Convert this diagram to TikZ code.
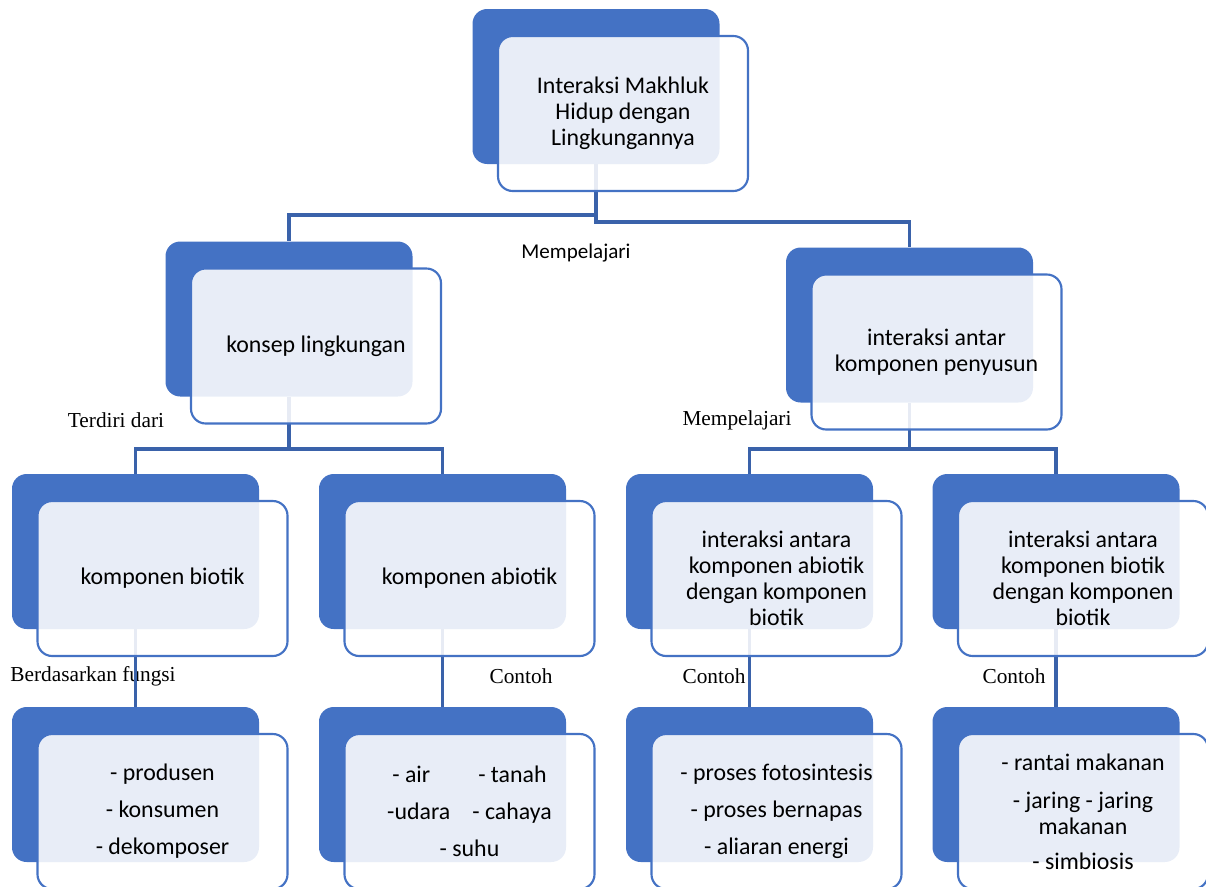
\documentclass[tikz,border=0pt]{standalone}
\usepackage{fontspec}
\setmainfont{Liberation Serif}
\newfontfamily\boxfont{Carlito}
\definecolor{smartblue}{HTML}{4472C4}
\definecolor{linkblue}{HTML}{3A62AA}

\begin{document}
\begin{tikzpicture}[x=0.75pt,y=-0.75pt,
    back/.style={rectangle,rounded corners=11pt,fill=smartblue,inner sep=0pt,
      minimum width=185.25pt,minimum height=116.25pt},
    front/.style={rectangle,rounded corners=11pt,draw=smartblue,line width=1.6pt,
      fill=white,fill opacity=0.88,text opacity=1,inner sep=2pt,align=center,
      minimum width=187.5pt,minimum height=116.25pt,xshift=20.25pt,yshift=-20.25pt,
      font=\boxfont\fontsize{17.9}{19.5}\selectfont},
    link/.style={draw=linkblue,line width=2.3pt},
    tag/.style={font=\fontsize{16}{19}\selectfont}]

\useasboundingbox (0,0) rectangle (1206,886);

\node[back] (b1) at (596,86.5) {};
\node[back] (b2) at (289,319) {};
\node[back] (b3) at (909.5,325) {};
\node[back] (b4) at (135.5,551.5) {};
\node[back] (b5) at (442.5,551.5) {};
\node[back] (b6) at (749.5,551.5) {};
\node[back] (b7) at (1056,551.5) {};
\node[back] (b8) at (135.5,784.5) {};
\node[back] (b9) at (442.5,784.5) {};
\node[back] (b10) at (749.5,784.5) {};
\node[back] (b11) at (1056,784.5) {};

\node[font=\boxfont\fontsize{15.8}{18}\selectfont] (m1) at (576,253) {Mempelajari};
\node[tag] (t1) at (116,420) {Terdiri dari};
\node[tag] (t2) at (737,420) {Mempelajari};
\node[tag] (t3) at (93,676) {Berdasarkan fungsi};
\node[tag] (t4) at (521,676) {Contoh};
\node[tag] (t5) at (714,676) {Contoh};
\node[tag] (t6) at (1014,676) {Contoh};

\draw[link] (b1.south) -- (b1.south |- 0,222) -| (b3.north);
\draw[link] (b1.south) -- (b1.south |- 0,215) -| (b2.north);
\draw[link] (b2.south) -- (b2.south |- 0,449) -| (b4.north);
\draw[link] (b2.south) -- (b2.south |- 0,449) -| (b5.north);
\draw[link] (b3.south) -- (b3.south |- 0,449) -| (b6.north);
\draw[link] (b3.south) -- (b3.south |- 0,449) -| (b7.north);
\draw[link] (b4.south) -- (b8.north);
\draw[link] (b5.south) -- (b9.north);
\draw[link] (b6.south) -- (b10.north);
\draw[link] (b7.south) -- (b11.north);

\node[front] (f1) at (b1) {Interaksi Makhluk\\Hidup dengan\\Lingkungannya};
\node[front] (f2) at (b2) {konsep lingkungan};
\node[front] (f3) at (b3) {interaksi antar\\komponen penyusun};
\node[front] (f4) at (b4) {komponen biotik};
\node[front] (f5) at (b5) {komponen abiotik};
\node[front] (f6) at (b6) {interaksi antara\\komponen abiotik\\dengan komponen\\biotik};
\node[front] (f7) at (b7) {interaksi antara\\komponen biotik\\dengan komponen\\biotik};
\node[front] (f8) at (b8) {- produsen\\[8.25pt]- konsumen\\[8.25pt]- dekomposer};
\node[front] (f9) at (b9) {- air\hspace{36pt}- tanah\\[8.25pt]-udara\hspace{16.5pt}- cahaya\\[8.25pt]- suhu};
\node[front] (f10) at (b10) {- proses fotosintesis\\[8.25pt]- proses bernapas\\[8.25pt]- aliaran energi};
\node[front] (f11) at (b11) {- rantai makanan\\[9pt]- jaring - jaring\\makanan\\[7pt]- simbiosis};
\end{tikzpicture}
\end{document}
